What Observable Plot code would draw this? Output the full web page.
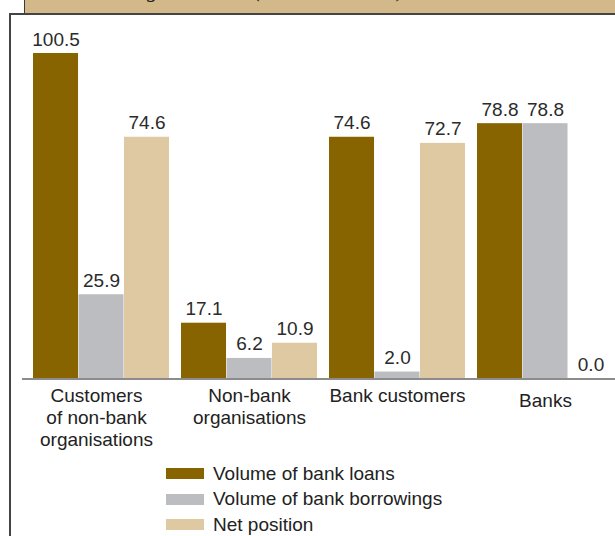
<!DOCTYPE html>
<html><head><meta charset="utf-8">
<script src="https://cdn.jsdelivr.net/npm/d3@7"></script>
<script src="https://cdn.jsdelivr.net/npm/@observablehq/plot@0.6"></script>
<style>
body{margin:0;width:615px;height:536px;overflow:hidden;background:#fff;font-family:"Liberation Sans",Arial,sans-serif;position:relative}
#header{position:absolute;left:24px;top:0;width:591px;height:13px;background:#d3b98a;border-left:1.5px solid #3a3a3a;overflow:hidden}
#header span{position:absolute;left:61px;top:-23px;font:italic 22px "Liberation Serif",serif;color:#222;white-space:nowrap;line-height:26px}
#panel{position:absolute;left:9px;top:13px;width:606px;height:523px;border-left:2px solid #444;border-top:2px solid #444;box-sizing:border-box}
#chart{position:absolute;left:0;top:0}
#legend{position:absolute;left:166px;top:461px;font-size:19px;color:#222}
.row{display:flex;align-items:center;height:25.5px}
.sw{width:38px;height:11px;margin-right:9px}
</style></head>
<body>
<div id="panel"></div>
<div id="header"><span>Lending to sectors (in CZK billions)</span></div>
<div id="chart"></div>
<div id="legend"></div>
<script>
const categories = ["Customers of non-bank organisations", "Non-bank organisations", "Bank customers", "Banks"];
const categoryLabels = ["Customers\nof non-bank\norganisations", "Non-bank\norganisations", "Bank customers", "Banks"];
const seriesNames = ["Volume of bank loans", "Volume of bank borrowings", "Net position"];
const seriesColors = ["#876400", "#bcbdc1", "#dec9a3"];
const loans = [100.5, 17.1, 74.6, 78.8];
const borrowings = [25.9, 6.2, 2.0, 78.8];
const netPosition = [74.6, 10.9, 72.7, 0.0];

const seriesValues = [loans, borrowings, netPosition];
const rows = [];
seriesValues.forEach((vals, s) => vals.forEach((v, i) => rows.push({category: categories[i], series: seriesNames[s], s, value: v})));

const x0 = 32, x1 = 614, padIn = 0.081;
const step = (x1 - x0) / (categories.length - padIn);
const third = step * (1 - padIn) / 3;

const marks = [];
seriesNames.forEach((name, s) => {
  const data = rows.filter(d => d.s === s);
  marks.push(Plot.barY(data, {x: "category", y: "value", fill: seriesColors[s],
    insetLeft: s * third, insetRight: (2 - s) * third}));
});
marks.push(Plot.ruleY([0], {stroke: "#8c8c8c", strokeWidth: 2, dy: 0.5}));
seriesNames.forEach((name, s) => {
  const data = rows.filter(d => d.s === s);
  marks.push(Plot.text(data, {x: "category", y: "value", text: d => d.value.toFixed(1),
    dx: (s - 1) * third, dy: -8, lineAnchor: "bottom", fontSize: 19, fill: "#2b2b2b"}));
});
categories.forEach((c, i) => {
  marks.push(Plot.text([c], {x: d => d, y: () => 0, text: () => categoryLabels[i],
    lineAnchor: "top", dx: i === 0 ? -5 : 0, dy: i === 3 ? 13 : 8, fontSize: 19, lineHeight: 1.16, fill: "#222"}));
});

const chart = Plot.plot({
  width: 615, height: 455,
  marginLeft: 22, marginRight: 0, marginTop: 53, marginBottom: 77,
  x: {domain: categories, range: [x0, x1], paddingInner: padIn, paddingOuter: 0, axis: null},
  y: {domain: [0, 100.5], axis: null},
  style: {background: "transparent", fontFamily: '"Liberation Sans", Arial, sans-serif', overflow: "visible"},
  marks
});
document.getElementById("chart").appendChild(chart);

const legend = document.getElementById("legend");
seriesNames.forEach((name, s) => {
  const row = document.createElement("div");
  row.className = "row";
  const sw = document.createElement("div");
  sw.className = "sw";
  sw.style.background = seriesColors[s];
  const t = document.createElement("span");
  t.textContent = name;
  row.appendChild(sw); row.appendChild(t);
  legend.appendChild(row);
});
</script>
</body></html>
